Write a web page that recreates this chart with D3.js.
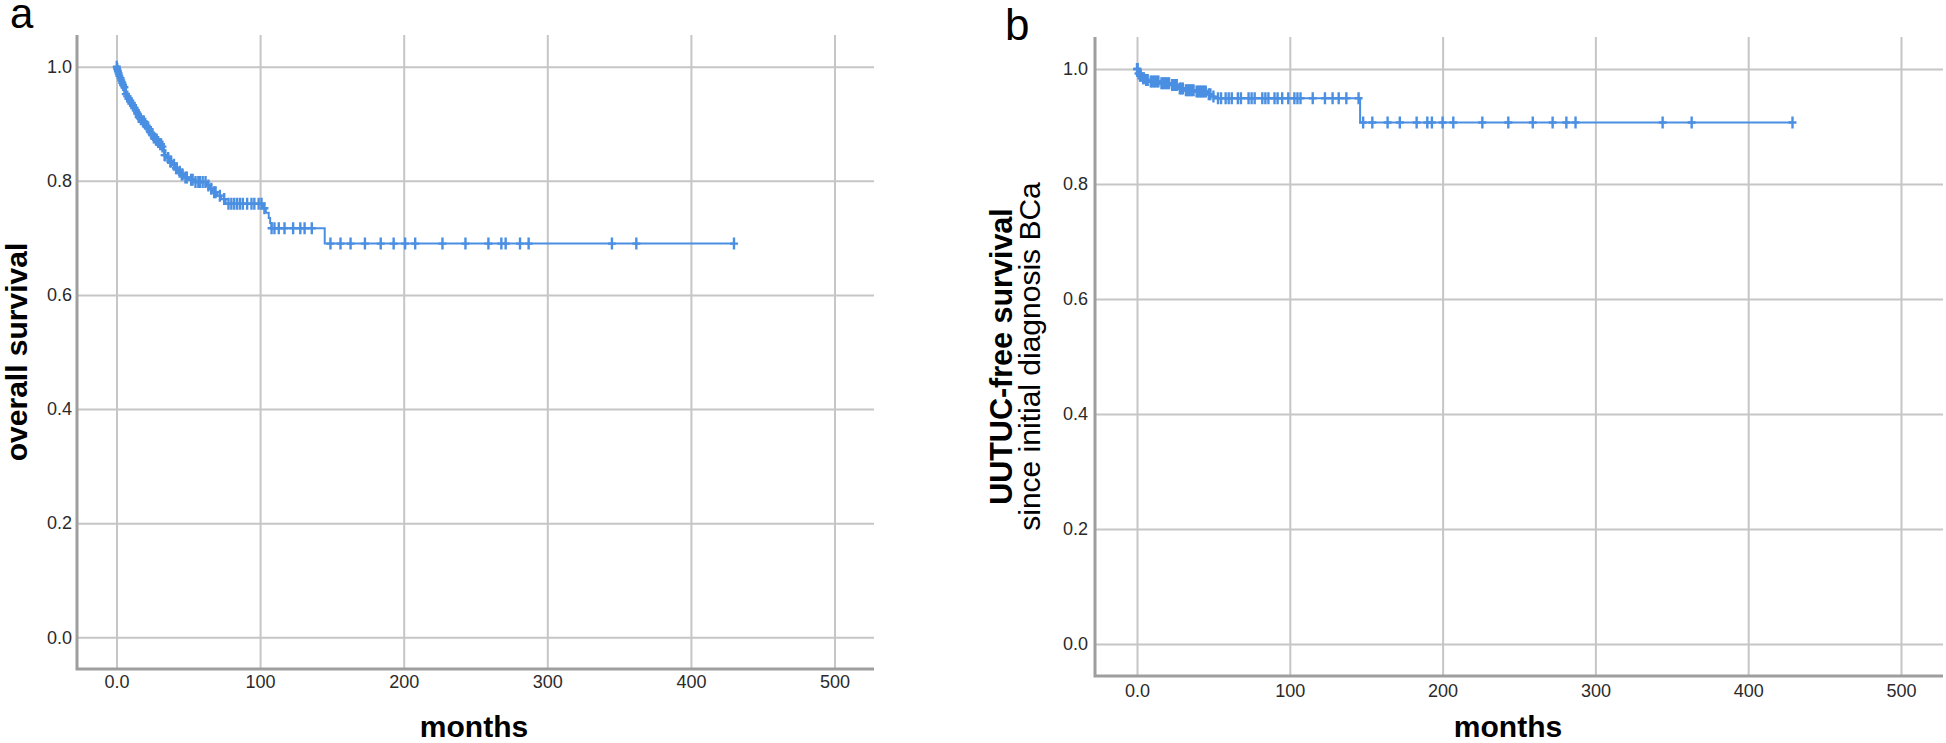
<!DOCTYPE html>
<html lang="en">
<head>
    <meta charset="utf-8">
    <title>Kaplan-Meier curves</title>
    <script src="https://d3js.org/d3.v7.min.js"></script>
    <style>
        body { margin: 0; background: white; }
        svg { display: block; font-family: "Liberation Sans", Arial, sans-serif; }
        .tick text { font-size: 18px; fill: #2a2a2a; }
        .grid line { stroke: #c6c6c6; stroke-width: 2; }
        .axis-line { stroke: #9e9e9e; stroke-width: 3; fill: none; }
        .km { fill: none; stroke: #4a8fe2; stroke-width: 2; }
        .censor { fill: none; stroke: #4a8fe2; stroke-width: 2.4; }
    </style>
</head>
<body>
<svg id="chart" width="1946" height="743"></svg>
<script>
    // tick values
    var xTicks = [0, 100, 200, 300, 400, 500];
    var yTicks = [0, 0.2, 0.4, 0.6, 0.8, 1.0];

    // a: overall survival, steps as [months, survival after event]
    var osSteps = [
        [0.3, 0.996], [0.8, 0.992], [1.3, 0.988], [1.8, 0.984], [2.5, 0.98], [3, 0.976],
        [3.6, 0.972], [4.2, 0.968], [5, 0.964], [6, 0.952], [7, 0.948], [8, 0.944],
        [9, 0.94], [10, 0.936], [11, 0.932], [12, 0.928], [13, 0.924], [14, 0.918],
        [15, 0.912], [16.5, 0.908], [18, 0.904], [19.5, 0.9], [21, 0.894], [22.5, 0.888],
        [24, 0.882], [25.5, 0.876], [27, 0.872], [28.5, 0.868], [30, 0.864], [31.5, 0.86],
        [33, 0.845], [35, 0.84], [37, 0.834], [39, 0.828], [41, 0.822], [43, 0.816],
        [45, 0.811], [47, 0.806], [50, 0.802], [54, 0.798], [63, 0.792], [65, 0.786],
        [67, 0.78], [70, 0.774], [73, 0.768], [76, 0.76], [102, 0.752], [104, 0.744],
        [106, 0.735], [107, 0.726], [108, 0.717], [145, 0.69]
    ];
    var osCensored = [
        0.2, 0.5, 1, 1.5, 2, 2.8, 3.3, 4, 4.6, 5.5, 6.5, 7.5, 8.5, 9.5, 10.5, 11.5, 12.5,
        13.5, 14.5, 15.5, 16, 17, 18.5, 19, 20, 21.5, 22, 23, 24.5, 25, 26, 27.5, 28, 29,
        30.5, 31, 32, 33.5, 34, 36, 37.5, 38, 40, 41.5, 42, 44, 45.5, 46, 48, 49,
        52, 53, 55, 57, 58, 60, 62, 64, 66, 68, 69, 72, 75, 78, 80, 82, 84, 86, 88, 91,
        94, 96, 99, 101, 103, 108, 110, 113, 117, 123, 128, 131, 136,
        149, 156, 163, 173, 184, 193, 201, 208, 227, 243, 259, 268, 271, 281, 287, 345, 362, 430
    ];

    // b: UUTUC-free survival since initial diagnosis BCa
    var uutucSteps = [
        [0.5, 0.992], [1.5, 0.988], [3, 0.984], [5, 0.981], [8, 0.978], [15, 0.975],
        [22, 0.972], [27, 0.966], [31, 0.963], [38, 0.961], [46, 0.956], [49, 0.952],
        [51, 0.949], [146, 0.907]
    ];
    var uutucCensored = [
        0, 0.4, 1, 2, 2.5, 4, 4.5, 6, 7, 9, 10, 11, 12, 13, 14, 16, 17, 18, 19, 20, 21,
        23, 24, 25, 26, 28, 29, 30, 32, 33, 34, 35, 36, 37, 39, 40, 41, 42, 43, 44, 45,
        47, 48, 50, 53, 55, 58, 60, 62, 66, 68, 73, 75, 77, 82, 84, 86, 90, 92, 95, 99,
        103, 105, 107, 115, 123, 128, 132, 137, 145,
        148, 154, 164, 172, 183, 190, 193, 200, 207, 226, 243, 259, 272, 281, 287, 344, 363, 429
    ];

    var svg = d3.select("#chart");

    function survivalAt(steps, t) {
        var s = 1;
        steps.forEach(function(d) { if (d[0] <= t) s = d[1]; });
        return s;
    }

    function drawPanel(p) {
        var x = d3.scaleLinear().domain([-27.5, 527.5]).range([p.left, p.right]);
        var y = d3.scaleLinear().domain([-0.0556, 1.0556]).range([p.bottom, p.top]);
        var g = svg.append("g");

        // vertical grid + x labels
        g.append("g")
            .attr("class", "grid")
            .attr("transform", "translate(0," + p.bottom + ")")
            .call(d3.axisBottom(x).tickValues(xTicks)
                .tickFormat(function(d) { return d === 0 ? "0.0" : d; })
                .tickSize(-(p.bottom - p.top)).tickSizeOuter(0).tickPadding(p.xPad))
            .call(function(a) { a.select(".domain").remove(); });

        // horizontal grid + y labels
        g.append("g")
            .attr("class", "grid")
            .attr("transform", "translate(" + p.left + ",0)")
            .call(d3.axisLeft(y).tickValues(yTicks)
                .tickFormat(d3.format(".1f"))
                .tickSize(-(p.right - p.left)).tickSizeOuter(0).tickPadding(p.yPad))
            .call(function(a) {
                a.select(".domain").remove();
                a.selectAll(".tick line").attr("x2", p.right - p.left).attr("x1", 0);
            });

        // axis lines
        g.append("path")
            .attr("class", "axis-line")
            .attr("d", "M" + p.left + "," + p.top + "V" + p.bottom + "H" + p.right);

        // KM step curve
        var last = p.censored[p.censored.length - 1];
        var pts = [[0, 1]].concat(p.steps).concat([[last, p.steps[p.steps.length - 1][1]]]);
        var line = d3.line()
            .x(function(d) { return x(d[0]); })
            .y(function(d) { return y(d[1]); })
            .curve(d3.curveStepAfter);
        g.append("path").datum(pts).attr("class", "km").attr("d", line);

        // censor marks
        g.selectAll(".censor").data(p.censored).enter().append("path")
            .attr("class", "censor")
            .attr("transform", function(t) {
                return "translate(" + x(t) + "," + y(survivalAt(p.steps, t)) + ")";
            })
            .attr("d", "M-4,0H4M0,-6V6");

        // x title
        g.append("text")
            .attr("x", p.monthsX).attr("y", 737)
            .attr("text-anchor", "middle")
            .attr("font-size", 30).attr("font-weight", "bold")
            .text("months");

        // y title lines
        p.yTitle.forEach(function(t) {
            g.append("text")
                .attr("transform", "translate(" + t.x + "," + ((p.top + p.bottom) / 2) + ") rotate(-90)")
                .attr("text-anchor", "middle")
                .attr("font-size", t.size).attr("font-weight", t.weight)
                .text(t.text);
        });

        // panel letter
        g.append("text")
            .attr("x", p.letterX).attr("y", p.letterY)
            .attr("font-size", p.letterSize)
            .text(p.letter);
    }

    drawPanel({
        left: 77, right: 874, top: 35, bottom: 669, xPad: 6, yPad: 5,
        steps: osSteps, censored: osCensored, monthsX: 474,
        yTitle: [{ text: "overall survival", x: 27, size: 30, weight: "bold" }],
        letter: "a", letterX: 10, letterY: 28, letterSize: 42
    });

    drawPanel({
        left: 1095, right: 1943, top: 37, bottom: 676, xPad: 8, yPad: 7,
        steps: uutucSteps, censored: uutucCensored, monthsX: 1508,
        yTitle: [
            { text: "UUTUC-free survival", x: 1012, size: 30.5, weight: "bold" },
            { text: "since initial diagnosis BCa", x: 1040, size: 30, weight: "normal" }
        ],
        letter: "b", letterX: 1005, letterY: 40, letterSize: 44
    });
</script>
</body>
</html>
